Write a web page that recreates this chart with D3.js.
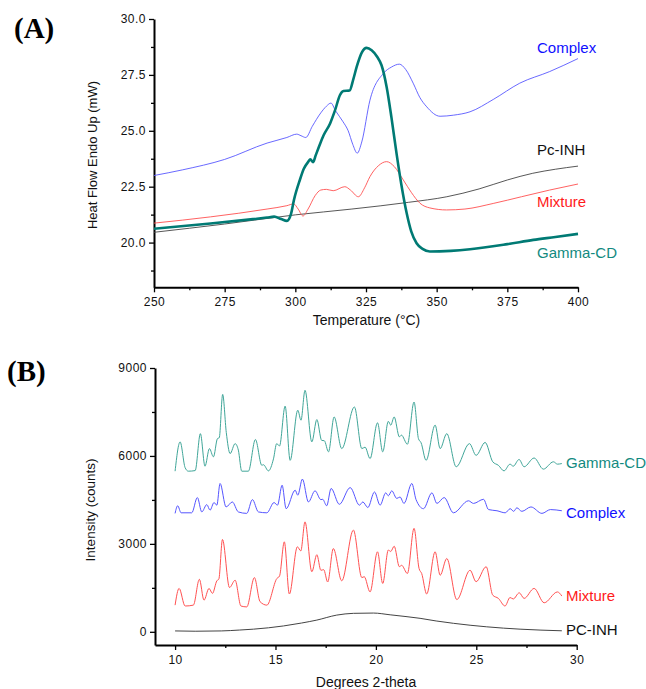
<!DOCTYPE html>
<html>
<head>
<meta charset="utf-8">
<script src="https://cdn.jsdelivr.net/npm/d3@7"></script>
<style>
  body { margin: 0; background: #fff; }
  svg { display: block; }
</style>
</head>
<body>
<div id="chart"></div>
<script>
// DSC (panel A) series: [temperature °C, heat flow mW]
const dscComplex = [[250,23.0],[260,23.25],[275,23.72],[290,24.45],[297,24.7],[300.5,24.85],[302,24.78],[303.7,24.7],[306,25.2],[309,25.8],[311,26.1],[312.6,26.24],[314.2,25.9],[316.9,25.4],[318.7,25.0],[320.3,24.4],[321.9,24.0],[323.5,24.5],[326.4,26.37],[331.1,27.56],[334,27.85],[336.8,27.98],[339,27.75],[341.8,27.1],[344,26.5],[346.5,26.07],[351.2,25.65],[356,25.7],[361.8,25.85],[370,26.4],[379.4,27.13],[390,27.65],[400,28.23]];
const dscPcInh = [[250,20.46],[275,20.83],[300,21.24],[320,21.5],[340,21.8],[353.6,22.05],[365,22.4],[375,22.8],[384,23.1],[392,23.28],[400,23.42]];
const dscMixture = [[250,20.87],[270,21.15],[290,21.5],[297,21.65],[299.4,21.73],[301,21.5],[302.7,21.19],[304.5,21.5],[307,22.1],[309,22.35],[311,22.38],[313.4,22.32],[317.5,22.5],[319.5,22.35],[322.3,22.05],[324.5,22.45],[326.4,22.95],[329.5,23.45],[332.3,23.62],[335,23.4],[338.2,22.8],[341,22.25],[344.1,21.76],[347.6,21.55],[353.5,21.46],[360,21.5],[370,21.75],[380,22.05],[390,22.35],[400,22.62]];
const dscGammaCD = [[250,20.62],[270,20.85],[285,21.05],[290,21.12],[292.5,21.16],[295,21.05],[297,20.97],[298.5,21.3],[299.5,21.9],[301.6,22.8],[303,23.3],[304.6,23.62],[305.3,23.72],[306.3,23.6],[307.2,23.9],[308.7,24.4],[310,24.8],[312.3,25.33],[314,25.9],[315.8,26.6],[317,26.78],[319.2,26.8],[320.5,27.3],[321.7,27.86],[323.5,28.5],[325.2,28.71],[327,28.6],[329,28.3],[330.5,27.93],[332.3,26.96],[334,25.6],[335.8,23.99],[337.5,22.6],[339.4,21.31],[341,20.5],[342.9,19.97],[345,19.72],[347.6,19.6],[355,19.63],[361.8,19.7],[375,19.93],[384.2,20.12],[392,20.25],[400,20.39]];

// XRD (panel B) series: [2-theta, counts]
const xrdGammaCD = [[10,5480],[10.25,6480],[10.5,5600],[10.66,5480],[11.0,5500],[11.26,6760],[11.49,5650],[11.71,6250],[11.91,5970],[12.11,6590],[12.2,6620],[12.37,8100],[12.55,6800],[12.74,6080],[12.99,6420],[13.15,6200],[13.32,5480],[13.65,5480],[14.0,6560],[14.32,5680],[14.4,5700],[14.65,5490],[14.9,5900],[15.06,6420],[15.2,6340],[15.48,7700],[15.73,5850],[16.11,7560],[16.27,7220],[16.47,8240],[16.81,6480],[17.06,7240],[17.3,6530],[17.43,6520],[17.64,6140],[17.92,7330],[18.3,6250],[18.93,7670],[19.3,6250],[19.46,6300],[19.71,5910],[20.08,7130],[20.34,6140],[20.62,7180],[20.74,7050],[20.91,7330],[21.17,6650],[21.27,6710],[21.57,6400],[21.9,7840],[22.12,6590],[22.25,6450],[22.5,5850],[22.95,7050],[23.2,6250],[23.53,6760],[24.0,5630],[24.66,6420],[24.99,6020],[25.44,6460],[25.82,5800],[26.1,5680],[26.38,5490],[26.68,5720],[26.84,5650],[27.13,5880],[27.38,5630],[27.88,5930],[28.34,5550],[28.84,5800],[29.04,5720],[29.26,5740]];
const xrdComplex = [[10,4040],[10.13,4300],[10.3,4060],[10.83,4060],[11.11,4580],[11.33,4090],[11.58,4340],[11.74,4150],[11.94,4410],[12.08,4320],[12.24,5060],[12.54,4260],[12.85,4430],[13.15,4090],[13.57,4040],[13.85,4510],[14.15,4090],[14.57,4060],[14.93,4410],[15.1,4320],[15.33,5000],[15.53,4200],[15.98,4830],[16.11,4660],[16.34,5210],[16.64,4430],[16.97,4810],[17.26,4510],[17.35,4520],[17.55,4300],[17.77,4890],[18.18,4350],[18.72,4920],[19.18,4320],[19.35,4430],[19.6,4240],[19.93,4770],[20.21,4320],[20.49,4740],[20.62,4640],[20.79,4810],[21.04,4550],[21.2,4600],[21.4,4380],[21.79,5060],[22.0,4510],[22.37,4200],[22.79,4740],[23.04,4380],[23.4,4580],[23.86,4060],[24.61,4470],[24.86,4380],[25.36,4520],[25.61,4170],[26.03,4130],[26.44,4060],[26.69,4200],[26.86,4110],[27.02,4230],[27.27,4110],[27.72,4260],[28.27,4040],[28.69,4170],[29.26,4130]];
const xrdMixture = [[10,910],[10.2,1480],[10.5,880],[10.91,910],[11.21,1790],[11.44,1080],[11.69,1480],[11.86,1310],[12.08,1740],[12.18,1800],[12.36,3150],[12.71,1510],[12.99,1760],[13.28,880],[13.57,850],[13.95,1850],[14.23,1030],[14.57,910],[15.07,1820],[15.2,1900],[15.44,3070],[15.69,1290],[16.09,2900],[16.26,2760],[16.47,3750],[16.81,2050],[17.06,2630],[17.26,2100],[17.4,2120],[17.6,1700],[17.88,2840],[18.3,1740],[18.88,3470],[19.3,1850],[19.42,1880],[19.71,1360],[20.08,2730],[20.34,1650],[20.62,2790],[20.74,2740],[20.91,2920],[21.17,2220],[21.28,2270],[21.57,1990],[21.9,3530],[22.15,2160],[22.28,1990],[22.53,1290],[22.95,2730],[23.2,1930],[23.53,2500],[24.03,1100],[24.69,2100],[24.99,1710],[25.49,2220],[25.82,1250],[26.1,1140],[26.43,880],[26.68,1170],[26.84,1120],[27.14,1330],[27.38,1140],[27.88,1480],[28.38,990],[29.04,1360],[29.26,1220]];
const xrdPcInh = [[10,30],[11,20],[12.3,30],[13.2,60],[13.9,90],[15.4,200],[16.3,300],[17.06,400],[18.05,570],[18.88,630],[19.88,640],[20.71,580],[21.5,520],[22.2,460],[23,370],[23.86,290],[25.52,170],[27.18,90],[29.26,35]];

// tick values
const dscXTicks = [250, 275, 300, 325, 350, 375, 400];
const dscYTicks = [20.0, 22.5, 25.0, 27.5, 30.0];
const xrdXTicks = [10, 15, 20, 25, 30];
const xrdYTicks = [0, 3000, 6000, 9000];

const width = 646, height = 689;

const svg = d3.select('#chart')
  .append('svg')
  .attr('width', width)
  .attr('height', height);

const FONT = "'Liberation Sans', Arial, sans-serif";

// Panel A scales
const xA = d3.scaleLinear().domain([250, 400]).range([154, 578]);
const yA = d3.scaleLinear().domain([18, 30]).range([287.3, 19]);

// Panel B scales
const xB = d3.scaleLinear().domain([9, 30]).range([155, 576.7]);
const yB = d3.scaleLinear().domain([-450, 9000]).range([645, 368]);

function styleAxis(g, fmt) {
  g.select('.domain').attr('stroke', '#000').attr('stroke-width', 2);
  g.selectAll('.tick line').attr('stroke', '#000').attr('stroke-width', 1.3);
  g.selectAll('.tick text')
    .style('font-family', FONT)
    .style('font-size', '12px')
    .style('letter-spacing', '0.5px')
    .attr('fill', '#111');
}

function drawAxes(x, y, xTicks, yTicks, xMinor, yMinor, yFmt, xFmt) {
  const top = y.range()[1], bottom = y.range()[0];
  const left = x.range()[0];

  // minor ticks first
  svg.append('g')
    .attr('transform', `translate(0,${bottom})`)
    .call(d3.axisBottom(x).tickValues(xMinor).tickSize(3).tickFormat('').tickSizeOuter(0))
    .call(g => { g.select('.domain').remove(); g.selectAll('.tick line').attr('stroke', '#000').attr('stroke-width', 1.3); });
  svg.append('g')
    .attr('transform', `translate(${left},0)`)
    .call(d3.axisLeft(y).tickValues(yMinor).tickSize(3).tickFormat('').tickSizeOuter(0))
    .call(g => { g.select('.domain').remove(); g.selectAll('.tick line').attr('stroke', '#000').attr('stroke-width', 1.3); });

  svg.append('g')
    .attr('transform', `translate(0,${bottom})`)
    .call(d3.axisBottom(x).tickValues(xTicks).tickSize(5).tickPadding(5).tickSizeOuter(0).tickFormat(xFmt))
    .call(styleAxis);

  svg.append('g')
    .attr('transform', `translate(${left},0)`)
    .call(d3.axisLeft(y).tickValues(yTicks).tickSize(5).tickPadding(3).tickSizeOuter(0).tickFormat(yFmt))
    .call(styleAxis);
}

// ---------- Panel A ----------
drawAxes(xA, yA, dscXTicks, dscYTicks,
  [262.5, 287.5, 312.5, 337.5, 362.5, 387.5],
  [18.75, 21.25, 23.75, 26.25, 28.75],
  d3.format('.1f'), d3.format('d'));

const lineA = d3.line()
  .x(d => xA(d[0]))
  .y(d => yA(d[1]))
  .curve(d3.curveMonotoneX);

const dscSeries = [
  { data: dscPcInh, color: '#444', w: 0.9 },
  { data: dscMixture, color: '#ff5050', w: 0.9 },
  { data: dscComplex, color: '#5858ff', w: 0.9 },
  { data: dscGammaCD, color: '#007a74', w: 2.6 }
];

svg.append('g').selectAll('path')
  .data(dscSeries)
  .join('path')
  .attr('d', d => lineA(d.data))
  .attr('fill', 'none')
  .attr('stroke', d => d.color)
  .attr('stroke-width', d => d.w)
  .attr('stroke-linejoin', 'round');

const dscLabels = [
  { text: 'Complex', y: 47.3, color: '#1010ff' },
  { text: 'Pc-INH', y: 150, color: '#111' },
  { text: 'Mixture', y: 201.7, color: '#ff1a1a' },
  { text: 'Gamma-CD', y: 252.7, color: '#128a80' }
];

svg.append('g').selectAll('text')
  .data(dscLabels)
  .join('text')
  .attr('x', 537)
  .attr('y', d => d.y)
  .attr('dy', '0.36em')
  .style('font-family', FONT)
  .style('font-size', '15px')
  .attr('fill', d => d.color)
  .text(d => d.text);

svg.append('text')
  .attr('x', 366.5)
  .attr('y', 325.3)
  .attr('text-anchor', 'middle')
  .style('font-family', FONT)
  .style('font-size', '14px')
  .attr('fill', '#111')
  .text('Temperature (°C)');

svg.append('text')
  .attr('transform', 'translate(96.5,155) rotate(-90)')
  .attr('text-anchor', 'middle')
  .style('font-family', FONT)
  .style('font-size', '13px')
  .attr('fill', '#111')
  .text('Heat Flow Endo Up (mW)');

svg.append('text')
  .attr('x', 14)
  .attr('y', 37.5)
  .style('font-family', "'Liberation Serif', 'Times New Roman', serif")
  .style('font-weight', 'bold')
  .style('font-size', '29px')
  .attr('fill', '#000')
  .text('(A)');

// ---------- Panel B ----------
drawAxes(xB, yB, xrdXTicks, xrdYTicks,
  [12.5, 17.5, 22.5, 27.5],
  [1500, 4500, 7500],
  d3.format('d'), d3.format('d'));

const lineB = d3.line()
  .x(d => xB(d[0]))
  .y(d => yB(d[1]))
  .curve(d3.curveMonotoneX);

const xrdSeries = [
  { data: xrdPcInh, color: '#444' },
  { data: xrdMixture, color: '#ff5252' },
  { data: xrdComplex, color: '#5555ff' },
  { data: xrdGammaCD, color: '#40a699' }
];

svg.append('g').selectAll('path')
  .data(xrdSeries)
  .join('path')
  .attr('d', d => lineB(d.data))
  .attr('fill', 'none')
  .attr('stroke', d => d.color)
  .attr('stroke-width', 1)
  .attr('stroke-linejoin', 'round');

const xrdLabels = [
  { text: 'Gamma-CD', y: 462.7, color: '#128a80' },
  { text: 'Complex', y: 512.7, color: '#1010ff' },
  { text: 'Mixture', y: 596, color: '#ff1a1a' },
  { text: 'PC-INH', y: 629.3, color: '#111' }
];

svg.append('g').selectAll('text')
  .data(xrdLabels)
  .join('text')
  .attr('x', 566)
  .attr('y', d => d.y)
  .attr('dy', '0.36em')
  .style('font-family', FONT)
  .style('font-size', '15px')
  .attr('fill', d => d.color)
  .text(d => d.text);

svg.append('text')
  .attr('x', 366)
  .attr('y', 687)
  .attr('text-anchor', 'middle')
  .style('font-family', FONT)
  .style('font-size', '14px')
  .attr('fill', '#111')
  .text('Degrees 2-theta');

svg.append('text')
  .attr('transform', 'translate(94.5,510) rotate(-90)')
  .attr('text-anchor', 'middle')
  .style('font-family', FONT)
  .style('font-size', '13.5px')
  .attr('fill', '#111')
  .text('Intensity (counts)');

svg.append('text')
  .attr('x', 7)
  .attr('y', 381)
  .style('font-family', "'Liberation Serif', 'Times New Roman', serif")
  .style('font-weight', 'bold')
  .style('font-size', '29px')
  .attr('fill', '#000')
  .text('(B)');
</script>
</body>
</html>
